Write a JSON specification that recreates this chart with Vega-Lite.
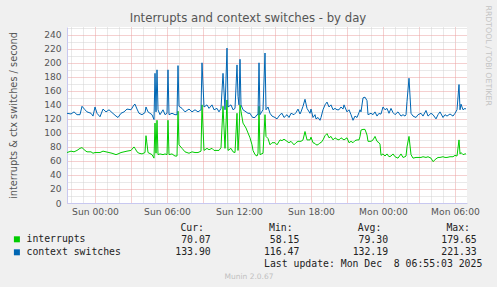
{
  "$schema": "https://vega.github.io/schema/vega-lite/v6.json",
  "width": 400,
  "height": 176,
  "autosize": {"type": "none"},
  "padding": {"left": 67, "top": 27, "right": 30, "bottom": 84},
  "background": "#f0f0f0",
  "config": {"view": {"fill": "white", "stroke": null}},
  "title": {"text": "Interrupts and context switches - by day", "font": "DejaVu Sans", "fontSize": 11.7, "fontWeight": "normal", "color": "#555555", "anchor": "middle", "dx": -19, "dy": 22, "offset": 2},
  "datasets": {
    "series": [
      {"minute": -140, "interrupts": 72, "context switches": 128},
      {"minute": -120, "interrupts": 74, "context switches": 127},
      {"minute": -105, "interrupts": 73, "context switches": 130},
      {"minute": -90, "interrupts": 75, "context switches": 126},
      {"minute": -75, "interrupts": 78, "context switches": 126},
      {"minute": -65, "interrupts": 79, "context switches": 138},
      {"minute": -50, "interrupts": 75, "context switches": 133},
      {"minute": -40, "interrupts": 73, "context switches": 130},
      {"minute": -20, "interrupts": 73, "context switches": 128},
      {"minute": -10, "interrupts": 71, "context switches": 124},
      {"minute": 0, "interrupts": 72, "context switches": 137},
      {"minute": 10, "interrupts": 72, "context switches": 128},
      {"minute": 25, "interrupts": 72, "context switches": 123},
      {"minute": 40, "interrupts": 74, "context switches": 134},
      {"minute": 55, "interrupts": 73, "context switches": 130},
      {"minute": 70, "interrupts": 72, "context switches": 133},
      {"minute": 85, "interrupts": 71, "context switches": 129},
      {"minute": 105, "interrupts": 69, "context switches": 124},
      {"minute": 115, "interrupts": 70, "context switches": 122},
      {"minute": 130, "interrupts": 72, "context switches": 128},
      {"minute": 145, "interrupts": 73, "context switches": 130},
      {"minute": 160, "interrupts": 74, "context switches": 134},
      {"minute": 180, "interrupts": 75, "context switches": 133},
      {"minute": 195, "interrupts": 80, "context switches": 140},
      {"minute": 200, "interrupts": 78, "context switches": 141},
      {"minute": 210, "interrupts": 73, "context switches": 134},
      {"minute": 220, "interrupts": 71, "context switches": 128},
      {"minute": 235, "interrupts": 70, "context switches": 126},
      {"minute": 250, "interrupts": 72, "context switches": 129},
      {"minute": 255, "interrupts": 96, "context switches": 137},
      {"minute": 265, "interrupts": 72, "context switches": 130},
      {"minute": 285, "interrupts": 69, "context switches": 126},
      {"minute": 295, "interrupts": 64, "context switches": 119},
      {"minute": 300, "interrupts": 114, "context switches": 185},
      {"minute": 305, "interrupts": 71, "context switches": 130},
      {"minute": 310, "interrupts": 118, "context switches": 190},
      {"minute": 315, "interrupts": 69, "context switches": 133},
      {"minute": 325, "interrupts": 70, "context switches": 126},
      {"minute": 340, "interrupts": 69, "context switches": 133},
      {"minute": 350, "interrupts": 70, "context switches": 126},
      {"minute": 360, "interrupts": 69, "context switches": 128},
      {"minute": 365, "interrupts": 118, "context switches": 190},
      {"minute": 370, "interrupts": 69, "context switches": 126},
      {"minute": 385, "interrupts": 70, "context switches": 128},
      {"minute": 400, "interrupts": 67, "context switches": 126},
      {"minute": 410, "interrupts": 67, "context switches": 126},
      {"minute": 415, "interrupts": 131, "context switches": 196},
      {"minute": 420, "interrupts": 83, "context switches": 138},
      {"minute": 435, "interrupts": 78, "context switches": 135},
      {"minute": 450, "interrupts": 73, "context switches": 130},
      {"minute": 470, "interrupts": 71, "context switches": 134},
      {"minute": 485, "interrupts": 73, "context switches": 130},
      {"minute": 500, "interrupts": 72, "context switches": 133},
      {"minute": 515, "interrupts": 72, "context switches": 130},
      {"minute": 530, "interrupts": 74, "context switches": 133},
      {"minute": 535, "interrupts": 140, "context switches": 200},
      {"minute": 545, "interrupts": 75, "context switches": 137},
      {"minute": 560, "interrupts": 78, "context switches": 140},
      {"minute": 570, "interrupts": 76, "context switches": 135},
      {"minute": 585, "interrupts": 78, "context switches": 140},
      {"minute": 595, "interrupts": 75, "context switches": 133},
      {"minute": 610, "interrupts": 75, "context switches": 135},
      {"minute": 620, "interrupts": 75, "context switches": 130},
      {"minute": 630, "interrupts": 79, "context switches": 135},
      {"minute": 640, "interrupts": 138, "context switches": 185},
      {"minute": 650, "interrupts": 78, "context switches": 133},
      {"minute": 660, "interrupts": 147, "context switches": 221},
      {"minute": 665, "interrupts": 75, "context switches": 137},
      {"minute": 680, "interrupts": 78, "context switches": 140},
      {"minute": 690, "interrupts": 73, "context switches": 133},
      {"minute": 700, "interrupts": 72, "context switches": 135},
      {"minute": 710, "interrupts": 128, "context switches": 197},
      {"minute": 715, "interrupts": 75, "context switches": 152},
      {"minute": 720, "interrupts": 100, "context switches": 140},
      {"minute": 725, "interrupts": 140, "context switches": 205},
      {"minute": 730, "interrupts": 131, "context switches": 140},
      {"minute": 740, "interrupts": 114, "context switches": 133},
      {"minute": 755, "interrupts": 107, "context switches": 130},
      {"minute": 765, "interrupts": 100, "context switches": 128},
      {"minute": 775, "interrupts": 93, "context switches": 128},
      {"minute": 785, "interrupts": 83, "context switches": 123},
      {"minute": 790, "interrupts": 75, "context switches": 122},
      {"minute": 800, "interrupts": 69, "context switches": 122},
      {"minute": 810, "interrupts": 67, "context switches": 126},
      {"minute": 815, "interrupts": 71, "context switches": 126},
      {"minute": 820, "interrupts": 138, "context switches": 200},
      {"minute": 825, "interrupts": 69, "context switches": 126},
      {"minute": 840, "interrupts": 71, "context switches": 133},
      {"minute": 850, "interrupts": 126, "context switches": 214},
      {"minute": 855, "interrupts": 95, "context switches": 133},
      {"minute": 865, "interrupts": 92, "context switches": 137},
      {"minute": 875, "interrupts": 83, "context switches": 128},
      {"minute": 885, "interrupts": 86, "context switches": 124},
      {"minute": 900, "interrupts": 86, "context switches": 122},
      {"minute": 910, "interrupts": 83, "context switches": 120},
      {"minute": 925, "interrupts": 90, "context switches": 126},
      {"minute": 935, "interrupts": 89, "context switches": 128},
      {"minute": 945, "interrupts": 91, "context switches": 122},
      {"minute": 960, "interrupts": 88, "context switches": 126},
      {"minute": 970, "interrupts": 86, "context switches": 122},
      {"minute": 980, "interrupts": 88, "context switches": 128},
      {"minute": 995, "interrupts": 83, "context switches": 126},
      {"minute": 1005, "interrupts": 86, "context switches": 129},
      {"minute": 1015, "interrupts": 88, "context switches": 134},
      {"minute": 1025, "interrupts": 88, "context switches": 127},
      {"minute": 1030, "interrupts": 88, "context switches": 130},
      {"minute": 1040, "interrupts": 90, "context switches": 138},
      {"minute": 1050, "interrupts": 102, "context switches": 148},
      {"minute": 1060, "interrupts": 90, "context switches": 135},
      {"minute": 1075, "interrupts": 90, "context switches": 128},
      {"minute": 1080, "interrupts": 94, "context switches": 134},
      {"minute": 1090, "interrupts": 86, "context switches": 122},
      {"minute": 1100, "interrupts": 85, "context switches": 126},
      {"minute": 1105, "interrupts": 83, "context switches": 120},
      {"minute": 1115, "interrupts": 83, "context switches": 122},
      {"minute": 1125, "interrupts": 86, "context switches": 118},
      {"minute": 1130, "interrupts": 86, "context switches": 122},
      {"minute": 1140, "interrupts": 90, "context switches": 133},
      {"minute": 1150, "interrupts": 96, "context switches": 140},
      {"minute": 1160, "interrupts": 99, "context switches": 144},
      {"minute": 1170, "interrupts": 93, "context switches": 137},
      {"minute": 1180, "interrupts": 95, "context switches": 140},
      {"minute": 1190, "interrupts": 90, "context switches": 133},
      {"minute": 1200, "interrupts": 93, "context switches": 135},
      {"minute": 1210, "interrupts": 91, "context switches": 133},
      {"minute": 1220, "interrupts": 90, "context switches": 133},
      {"minute": 1230, "interrupts": 93, "context switches": 137},
      {"minute": 1240, "interrupts": 91, "context switches": 134},
      {"minute": 1245, "interrupts": 90, "context switches": 140},
      {"minute": 1260, "interrupts": 93, "context switches": 130},
      {"minute": 1270, "interrupts": 86, "context switches": 133},
      {"minute": 1280, "interrupts": 88, "context switches": 126},
      {"minute": 1290, "interrupts": 86, "context switches": 118},
      {"minute": 1300, "interrupts": 89, "context switches": 124},
      {"minute": 1310, "interrupts": 90, "context switches": 122},
      {"minute": 1320, "interrupts": 90, "context switches": 129},
      {"minute": 1325, "interrupts": 95, "context switches": 133},
      {"minute": 1330, "interrupts": 104, "context switches": 130},
      {"minute": 1340, "interrupts": 105, "context switches": 150},
      {"minute": 1350, "interrupts": 105, "context switches": 151},
      {"minute": 1360, "interrupts": 97, "context switches": 146},
      {"minute": 1365, "interrupts": 88, "context switches": 126},
      {"minute": 1380, "interrupts": 88, "context switches": 128},
      {"minute": 1390, "interrupts": 90, "context switches": 126},
      {"minute": 1400, "interrupts": 95, "context switches": 130},
      {"minute": 1410, "interrupts": 88, "context switches": 124},
      {"minute": 1420, "interrupts": 86, "context switches": 128},
      {"minute": 1425, "interrupts": 84, "context switches": 127},
      {"minute": 1430, "interrupts": 68, "context switches": 127},
      {"minute": 1440, "interrupts": 70, "context switches": 137},
      {"minute": 1450, "interrupts": 67, "context switches": 133},
      {"minute": 1460, "interrupts": 70, "context switches": 135},
      {"minute": 1470, "interrupts": 66, "context switches": 128},
      {"minute": 1480, "interrupts": 67, "context switches": 135},
      {"minute": 1490, "interrupts": 70, "context switches": 129},
      {"minute": 1500, "interrupts": 66, "context switches": 126},
      {"minute": 1515, "interrupts": 64, "context switches": 130},
      {"minute": 1530, "interrupts": 70, "context switches": 124},
      {"minute": 1540, "interrupts": 65, "context switches": 126},
      {"minute": 1550, "interrupts": 66, "context switches": 124},
      {"minute": 1555, "interrupts": 67, "context switches": 126},
      {"minute": 1560, "interrupts": 80, "context switches": 145},
      {"minute": 1570, "interrupts": 95, "context switches": 178},
      {"minute": 1580, "interrupts": 69, "context switches": 128},
      {"minute": 1590, "interrupts": 64, "context switches": 124},
      {"minute": 1605, "interrupts": 65, "context switches": 122},
      {"minute": 1615, "interrupts": 65, "context switches": 126},
      {"minute": 1630, "interrupts": 65, "context switches": 128},
      {"minute": 1640, "interrupts": 66, "context switches": 124},
      {"minute": 1655, "interrupts": 65, "context switches": 132},
      {"minute": 1665, "interrupts": 66, "context switches": 124},
      {"minute": 1680, "interrupts": 64, "context switches": 128},
      {"minute": 1690, "interrupts": 59, "context switches": 126},
      {"minute": 1705, "interrupts": 63, "context switches": 120},
      {"minute": 1715, "interrupts": 65, "context switches": 126},
      {"minute": 1725, "interrupts": 65, "context switches": 130},
      {"minute": 1740, "interrupts": 66, "context switches": 122},
      {"minute": 1750, "interrupts": 65, "context switches": 126},
      {"minute": 1760, "interrupts": 65, "context switches": 124},
      {"minute": 1775, "interrupts": 66, "context switches": 127},
      {"minute": 1790, "interrupts": 66, "context switches": 124},
      {"minute": 1800, "interrupts": 68, "context switches": 128},
      {"minute": 1810, "interrupts": 67, "context switches": 133},
      {"minute": 1820, "interrupts": 90, "context switches": 169},
      {"minute": 1825, "interrupts": 70, "context switches": 133},
      {"minute": 1830, "interrupts": 72, "context switches": 141},
      {"minute": 1840, "interrupts": 69, "context switches": 133},
      {"minute": 1850, "interrupts": 70, "context switches": 135},
      {"minute": 1855, "interrupts": 70.07, "context switches": 133.9}
    ],
    "stats": [
      {"row": "header", "col": "Cur", "v": "Cur:"},
      {"row": "header", "col": "Min", "v": "Min:"},
      {"row": "header", "col": "Avg", "v": "Avg:"},
      {"row": "header", "col": "Max", "v": "Max:"},
      {"row": "interrupts", "col": "Cur", "v": "70.07"},
      {"row": "interrupts", "col": "Min", "v": "58.15"},
      {"row": "interrupts", "col": "Avg", "v": "79.30"},
      {"row": "interrupts", "col": "Max", "v": "179.65"},
      {"row": "context switches", "col": "Cur", "v": "133.90"},
      {"row": "context switches", "col": "Min", "v": "116.47"},
      {"row": "context switches", "col": "Avg", "v": "132.19"},
      {"row": "context switches", "col": "Max", "v": "221.33"},
      {"row": "update", "col": "Max", "v": "Last update: Mon Dec \u00a08 06:55:03 2025"}
    ]
  },
  "layer": [
    {
      "data": {"name": "series"},
      "transform": [{"fold": ["interrupts", "context switches"], "as": ["series", "value"]}],
      "layer": [
        {
          "mark": {"type": "line", "strokeWidth": 1},
          "encoding": {
            "x": {
              "field": "minute", "type": "quantitative",
              "scale": {"domain": [-140, 1860], "nice": false, "zero": false},
              "axis": {
                "values": [-120, -60, 0, 60, 120, 180, 240, 300, 360, 420, 480, 540, 600, 660, 720, 780, 840, 900, 960, 1020, 1080, 1140, 1200, 1260, 1320, 1380, 1440, 1500, 1560, 1620, 1680, 1740, 1800],
                "labelExpr": "datum.value % 360 === 0 ? ((datum.value < 1440 ? 'Sun ' : 'Mon ') + ['00:00', '06:00', '12:00', '18:00'][(datum.value % 1440) / 360]) : ''",
                "labelOverlap": false, "labelFlush": false, "ticks": false, "labelPadding": 4,
                "labelFont": "DejaVu Sans", "labelFontSize": 9.2, "labelColor": "#555555",
                "gridColor": {"condition": {"test": "datum.value % 180 === 0", "value": "#eaa0a0"}, "value": "#d2d2d2"},
                "gridDash": [1, 1], "gridWidth": 1, "gridOpacity": 1,
                "domainColor": "#c8c8f0", "domainWidth": 1,
                "title": "Munin 2.0.67", "titleX": 181.5, "titleY": 73, "titleAlign": "center", "titleBaseline": "middle",
                "titleFont": "DejaVu Sans", "titleFontSize": 7.5, "titleFontWeight": "normal", "titleColor": "#c0c0c0"
              }
            },
            "y": {
              "field": "value", "type": "quantitative",
              "scale": {"domain": [0, 251.1], "nice": false},
              "axis": {
                "orient": "left",
                "values": [0, 10, 20, 30, 40, 50, 60, 70, 80, 90, 100, 110, 120, 130, 140, 150, 160, 170, 180, 190, 200, 210, 220, 230, 240, 250],
                "labelExpr": "datum.value % 20 === 0 && datum.value <= 240 ? datum.label : ''",
                "ticks": false, "labelPadding": 6,
                "labelFont": "DejaVu Sans", "labelFontSize": 9.1, "labelColor": "#555555",
                "gridColor": {"condition": {"test": "datum.value % 20 === 0", "value": "#eaa0a0"}, "value": "#d2d2d2"},
                "gridDash": [1, 1], "gridWidth": 1, "gridOpacity": 1,
                "domainColor": "#c8c8f0", "domainWidth": 1,
                "title": "interrupts & ctx switches / second",
                "titleFont": "DejaVu Sans", "titleFontSize": 9.8, "titleFontWeight": "normal", "titleColor": "#555555", "titlePadding": 25
              }
            },
            "color": {
              "field": "series", "type": "nominal",
              "scale": {"domain": ["interrupts", "context switches"], "range": ["#00cc00", "#0066b3"]},
              "legend": {
                "orient": "none", "legendX": -55, "legendY": 207.4, "title": null, "direction": "vertical",
                "symbolType": "square", "symbolSize": 9, "symbolStrokeWidth": 3,
                "labelFont": "DejaVu Sans Mono", "labelFontSize": 9.8, "labelColor": "#222222",
                "rowPadding": -3.4, "labelOffset": 4.7, "padding": 0
              }
            }
          }
        },
        {
          "mark": {"type": "rule", "opacity": 0},
          "encoding": {
            "y": {
              "field": "value", "type": "quantitative",
              "axis": {
                "orient": "right", "labels": false, "ticks": false, "domain": false, "grid": false,
                "title": "RRDTOOL / TOBI OETIKER", "titleAngle": 90, "titleX": 20, "titleY": -22,
                "titleAlign": "left", "titleBaseline": "middle",
                "titleFont": "DejaVu Sans", "titleFontSize": 7.8, "titleFontWeight": "normal", "titleColor": "#c4c4c4"
              }
            }
          }
        }
      ],
      "resolve": {"axis": {"y": "independent"}}
    },
    {
      "data": {"name": "stats"},
      "encoding": {
        "x": {"field": "col", "type": "ordinal", "scale": {"type": "point", "domain": ["Cur", "Min", "Avg", "Max"], "range": [143.7, 409.7], "padding": 0}, "axis": null},
        "y": {"field": "row", "type": "ordinal", "scale": {"type": "point", "domain": ["header", "interrupts", "context switches", "update"], "range": [200.7, 236.7], "padding": 0}, "axis": null},
        "text": {"field": "v"}
      },
      "layer": [
        {
          "transform": [{"filter": "datum.row === 'interrupts' || datum.row === 'context switches'"}],
          "mark": {"type": "text", "align": "right", "baseline": "middle", "font": "DejaVu Sans Mono", "fontSize": 9.8, "color": "#222222"}
        },
        {
          "transform": [{"filter": "datum.row === 'header'"}],
          "mark": {"type": "text", "align": "right", "baseline": "middle", "font": "DejaVu Sans Mono", "fontSize": 9.8, "color": "#222222", "dx": -6.7}
        },
        {
          "transform": [{"filter": "datum.row === 'update'"}],
          "mark": {"type": "text", "align": "right", "baseline": "middle", "font": "DejaVu Sans Mono", "fontSize": 9.8, "color": "#222222", "dx": 5.6}
        }
      ]
    }
  ],
  "resolve": {
    "scale": {"x": "independent", "y": "independent", "color": "independent"},
    "axis": {"x": "independent", "y": "independent"}
  }
}
